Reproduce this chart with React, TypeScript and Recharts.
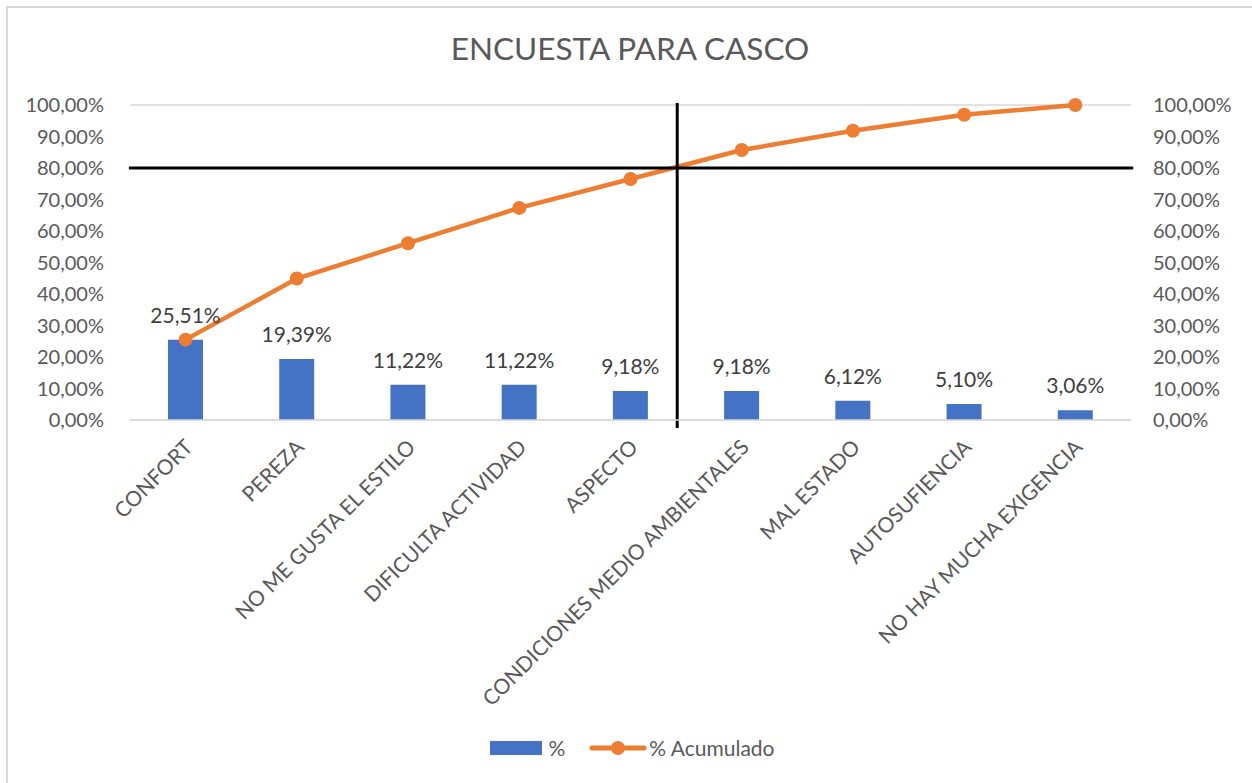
import { ComposedChart, Bar, Line, XAxis, YAxis, CartesianGrid, LabelList, ReferenceLine, Legend } from "recharts"

const categories = [
  "CONFORT",
  "PEREZA",
  "NO ME GUSTA EL ESTILO",
  "DIFICULTA ACTIVIDAD",
  "ASPECTO",
  "CONDICIONES MEDIO AMBIENTALES",
  "MAL ESTADO",
  "AUTOSUFIENCIA",
  "NO HAY MUCHA EXIGENCIA",
]
const percent = [25.51, 19.39, 11.22, 11.22, 9.18, 9.18, 6.12, 5.1, 3.06]
const cumulative = [25.51, 44.9, 56.12, 67.34, 76.52, 85.7, 91.82, 96.92, 100]
const yTicks = [0, 10, 20, 30, 40, 50, 60, 70, 80, 90, 100]

// pareto cut lines (data units: percent on y, category bands on hidden x axis)
const CUT_Y = 80
const CUT_X = 4.92

const FONT = "Lato, 'Open Sans', sans-serif"
const TXT = "#595959"

const data = categories.map((name, i) => ({ name, pos: i + 0.5, pct: percent[i], acc: cumulative[i] }))

const fmt = (v: number) => v.toFixed(2).replace(".", ",") + "%"

function XTick(props: any) {
  const { x, y, payload } = props
  const tx = x - 2
  const ty = y + 10
  return (
    <text x={tx} y={ty} transform={`rotate(-45, ${tx}, ${ty})`} textAnchor="end" dy="0.71em" fill={TXT} fontSize={21} fontFamily={FONT}>
      {payload.value}
    </text>
  )
}

function LegendBox() {
  return (
    <div style={{ display: "flex", justifyContent: "center", alignItems: "center", fontFamily: FONT, fontSize: 21, color: TXT, paddingLeft: 14 }}>
      <span style={{ display: "inline-block", width: 52, height: 14, background: "#4472C4", marginRight: 6 }} />
      <span style={{ marginRight: 24 }}>%</span>
      <svg width={58} height={20} style={{ marginRight: 2 }}>
        <line x1={3} y1={10} x2={55} y2={10} stroke="#ED7D31" strokeWidth={5} strokeLinecap="round" />
        <circle cx={29} cy={10} r={7} fill="#ED7D31" />
      </svg>
      <span>% Acumulado</span>
    </div>
  )
}

export default function App() {
  return (
    <div style={{ position: "absolute", left: 0, top: 0, width: 1252, height: 783, background: "#fff", overflow: "hidden" }}>
      <div style={{ position: "absolute", left: 6, top: 6, width: 1260, height: 790, border: "2px solid #d9d9d9" }} />
      <div style={{ position: "absolute", left: 4, top: 29, width: 1252, textAlign: "center", fontFamily: FONT, fontSize: 31.5, color: TXT }}>
        ENCUESTA PARA CASCO
      </div>
      <ComposedChart width={1252} height={783} data={data} margin={{ top: 105, right: 11, bottom: 18, left: 10 }} style={{ position: "absolute", left: 0, top: 0 }}>
        <CartesianGrid vertical={false} stroke="#d9d9d9" strokeWidth={1.5} />
        <XAxis dataKey="name" xAxisId="cat" interval={0} height={315} tickLine={false} axisLine={{ stroke: "#d9d9d9", strokeWidth: 1.5 }} tick={<XTick />} />
        <XAxis xAxisId="num" dataKey="pos" type="number" domain={[0, 9]} allowDataOverflow padding={{ left: 0, right: 0 }} height={0} tick={false} axisLine={false} tickLine={false} />
        <YAxis yAxisId="left" domain={[0, 100]} ticks={yTicks} width={120} tickFormatter={fmt} axisLine={false} tickLine={false} tick={{ fill: TXT, fontSize: 20, fontFamily: FONT }} tickMargin={20} />
        <YAxis yAxisId="right" orientation="right" domain={[0, 100]} ticks={yTicks} width={110} tickFormatter={fmt} axisLine={false} tickLine={false} tick={{ fill: TXT, fontSize: 20, fontFamily: FONT, textAnchor: "start" }} tickMargin={16} />
        <Bar dataKey="pct" xAxisId="cat" yAxisId="left" fill="#4472C4" barSize={35} isAnimationActive={false}>
          <LabelList dataKey="pct" position="top" offset={17} formatter={(v: any) => fmt(Number(v))} fill="#404040" fontSize={21} fontFamily={FONT} />
        </Bar>
        <Line dataKey="acc" xAxisId="cat" yAxisId="right" stroke="#ED7D31" strokeWidth={4.5} dot={{ r: 7, fill: "#ED7D31", stroke: "#ED7D31", strokeWidth: 0 }} isAnimationActive={false} />
        <ReferenceLine
          xAxisId="num"
          yAxisId="left"
          ifOverflow="visible"
          segment={[{ x: -0.01, y: CUT_Y }, { x: 9.02, y: CUT_Y }]}
          stroke="#000"
          strokeWidth={3}
        />
        <ReferenceLine
          xAxisId="num"
          yAxisId="left"
          ifOverflow="visible"
          segment={[{ x: CUT_X, y: -2.5 }, { x: CUT_X, y: 100.6 }]}
          stroke="#000"
          strokeWidth={3}
        />
        <Legend content={<LegendBox />} verticalAlign="bottom" height={30} />
      </ComposedChart>
    </div>
  )
}
